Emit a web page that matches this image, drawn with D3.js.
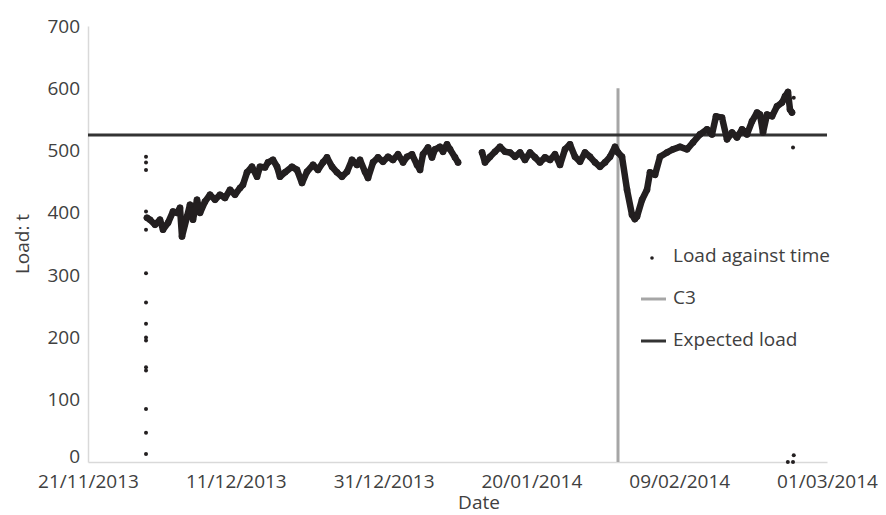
<!DOCTYPE html>
<html>
<head>
<meta charset="utf-8">
<script src="https://cdn.jsdelivr.net/npm/d3@7"></script>
<style>
  html, body { margin: 0; padding: 0; background: #ffffff; }
  text { font-family: 'Open Sans', sans-serif; fill: #404040; }
</style>
</head>
<body>
<svg id="chart" width="886" height="515"></svg>
<script>
// Dates are stored as days since the first tick (21/11/2013)
const START_DATE = '21/11/2013';
const xTickLabels = ['21/11/2013', '11/12/2013', '31/12/2013', '20/01/2014', '09/02/2014', '01/03/2014'];
const yTickValues = [0, 100, 200, 300, 400, 500, 600, 700];

// Load against time, first run (before the gap of ~11/01/2014)
const runOneDays = [7.98, 8.39, 9.07, 9.74, 10.15, 10.83, 11.50, 12.04, 12.45, 12.72, 13.40, 13.80, 14.21, 14.75,
  15.16, 15.83, 16.51, 17.19, 17.86, 18.54, 19.22, 19.89, 20.57, 20.97, 21.52, 22.19, 22.87, 23.27, 23.95, 24.36,
  25.03, 25.58, 25.98, 26.66, 27.60, 28.28, 28.96, 29.63, 30.45, 31.12, 31.80, 32.34, 33.02, 33.69, 34.37, 35.05,
  35.72, 36.40, 36.81, 37.48, 37.89, 38.57, 39.24, 39.92, 40.60, 41.27, 41.95, 42.63, 43.17, 43.84, 44.52, 44.93,
  45.33, 46.01, 46.55, 46.96, 47.63, 48.04, 48.58, 48.99, 49.66, 50.07];
const runOneLoad = [392, 389, 381, 389, 373, 384, 402, 400, 408, 362, 394, 413, 389, 421,
  400, 418, 429, 421, 429, 424, 437, 429, 440, 445, 465, 474, 458, 474, 473, 481,
  485, 474, 458, 465, 474, 469, 448, 466, 477, 469, 481, 489, 474, 465, 458, 466,
  485, 477, 485, 466, 456, 481, 489, 482, 490, 485, 494, 481, 490, 494, 477, 469,
  494, 505, 489, 502, 506, 498, 510, 502, 489, 481];

// Load against time, second run
const runTwoDays = [53.32, 53.72, 54.40, 55.07, 55.75, 56.43, 57.10, 57.78, 58.46, 59.13, 59.81, 60.49, 61.16, 61.84,
  62.52, 63.19, 63.87, 64.55, 65.22, 65.90, 66.58, 67.25, 67.93, 68.61, 69.28, 69.96, 70.64, 71.31, 71.72, 72.26,
  72.94, 73.61, 74.0, 74.29, 74.97, 75.64, 76.05, 76.73, 77.40, 78.35, 79.16, 80.11, 81.06, 81.87, 82.81, 83.76,
  84.44, 84.98, 85.79, 86.47, 87.15, 87.82, 88.50, 89.17, 89.85, 90.53, 90.93, 91.34, 91.88, 92.56, 93.23, 93.91,
  94.32, 94.72, 94.99, 95.26];
const runTwoLoad = [497, 481, 490, 498, 506, 498, 497, 490, 497, 485, 497, 489, 481, 489,
  485, 494, 477, 502, 510, 490, 482, 497, 490, 481, 474, 481, 490, 506, 497, 490,
  437, 397, 390, 394, 421, 437, 465, 461, 490, 497, 502, 506, 502, 513, 526, 534,
  526, 555, 553, 518, 529, 521, 534, 526, 547, 561, 558, 529, 558, 555, 571, 577,
  587, 594, 566, 561];

// Isolated readings at the start and end of the record
const outlierDays = [7.85, 7.85, 7.85, 7.85, 7.85, 7.85, 7.85, 7.85, 7.85, 7.85, 7.85, 7.85, 7.85, 7.85, 7.85,
  95.5, 95.4, 94.7, 95.4, 95.5];
const outlierLoad = [490, 481, 469, 402, 373, 303, 256, 222, 200, 195, 152, 147, 85, 47, 13,
  585, 505, 0, 0, 11];

const C3_DAY = 71.72;
const C3_TOP = 600;
const EXPECTED_LOAD = 525;

const COLOR_TEXT = '#404040';
const COLOR_AXIS = '#d9d9d9';
const COLOR_SERIES = '#231f20';
const COLOR_C3 = '#a6a6a6';
const COLOR_EXPECTED = '#333333';

const PLOT_LEFT = 88;
const PLOT_RIGHT = 827;
const PLOT_TOP = 26;
const PLOT_BOTTOM = 462;
const FONT_SIZE = 19;

const parseDay = d3.timeParse('%d/%m/%Y');
const start = parseDay(START_DATE);
const toDate = d => new Date(start.getTime() + d * 864e5);

const svg = d3.select('#chart');

const x = d3.scaleTime()
  .domain([parseDay(xTickLabels[0]), parseDay(xTickLabels[xTickLabels.length - 1])])
  .range([PLOT_LEFT, PLOT_RIGHT]);
const y = d3.scaleLinear()
  .domain([0, 700])
  .range([PLOT_BOTTOM, PLOT_TOP]);

// Axes
const xAxis = svg.append('g')
  .attr('transform', `translate(0,${PLOT_BOTTOM})`)
  .call(d3.axisBottom(x)
    .tickValues(xTickLabels.map(parseDay))
    .tickFormat(d3.timeFormat('%d/%m/%Y'))
    .tickSize(0)
    .tickPadding(13));
const yAxis = svg.append('g')
  .attr('transform', `translate(${PLOT_LEFT},0)`)
  .call(d3.axisLeft(y)
    .tickValues(yTickValues)
    .tickSize(0)
    .tickPadding(8));

[xAxis, yAxis].forEach(g => {
  g.select('.domain').attr('stroke', COLOR_AXIS).attr('stroke-width', 1.5);
  g.selectAll('text')
    .attr('font-family', "'Open Sans', sans-serif")
    .attr('font-size', FONT_SIZE)
    .attr('fill', COLOR_TEXT);
});
// the bottom label sits higher so it clears the first date label
yAxis.selectAll('.tick text').filter(d => d === 0).attr('dy', '0');

// Axis titles
svg.append('text')
  .attr('x', 479)
  .attr('y', 509)
  .attr('text-anchor', 'middle')
  .attr('font-size', FONT_SIZE)
  .text('Date');
svg.append('text')
  .attr('transform', `translate(29,${(PLOT_TOP + PLOT_BOTTOM) / 2}) rotate(-90)`)
  .attr('text-anchor', 'middle')
  .attr('font-size', FONT_SIZE)
  .text('Load: t');

// Reference lines
svg.append('line')
  .attr('x1', x(toDate(C3_DAY)))
  .attr('x2', x(toDate(C3_DAY)))
  .attr('y1', y(0))
  .attr('y2', y(C3_TOP))
  .attr('stroke', COLOR_C3)
  .attr('stroke-width', 3);
svg.append('line')
  .attr('x1', PLOT_LEFT)
  .attr('x2', PLOT_RIGHT)
  .attr('y1', y(EXPECTED_LOAD))
  .attr('y2', y(EXPECTED_LOAD))
  .attr('stroke', COLOR_EXPECTED)
  .attr('stroke-width', 3);

// Load against time - dense readings drawn as a thick trace plus dots
const runs = [
  runOneDays.map((d, i) => ({ t: toDate(d), v: runOneLoad[i] })),
  runTwoDays.map((d, i) => ({ t: toDate(d), v: runTwoLoad[i] }))
];
const line = d3.line().x(d => x(d.t)).y(d => y(d.v)).curve(d3.curveLinear);

const series = svg.append('g');
runs.forEach(run => {
  series.append('path')
    .attr('d', line(run))
    .attr('fill', 'none')
    .attr('stroke', COLOR_SERIES)
    .attr('stroke-width', 6.5)
    .attr('stroke-linejoin', 'round')
    .attr('stroke-linecap', 'round');
  series.selectAll(null)
    .data(run)
    .join('circle')
    .attr('cx', d => x(d.t))
    .attr('cy', d => y(d.v))
    .attr('r', 3.3)
    .attr('fill', COLOR_SERIES);
});

series.selectAll(null)
  .data(outlierDays.map((d, i) => ({ t: toDate(d), v: outlierLoad[i] })))
  .join('circle')
  .attr('cx', d => x(d.t))
  .attr('cy', d => y(d.v))
  .attr('r', 2)
  .attr('fill', COLOR_SERIES);

// Legend
const legend = svg.append('g').attr('transform', 'translate(641,0)');
legend.append('circle')
  .attr('cx', 11)
  .attr('cy', 258)
  .attr('r', 1.8)
  .attr('fill', COLOR_SERIES);
legend.append('line')
  .attr('x1', 0).attr('x2', 25)
  .attr('y1', 299).attr('y2', 299)
  .attr('stroke', COLOR_C3)
  .attr('stroke-width', 3);
legend.append('line')
  .attr('x1', 0).attr('x2', 25)
  .attr('y1', 341).attr('y2', 341)
  .attr('stroke', COLOR_EXPECTED)
  .attr('stroke-width', 3);
[['Load against time', 262], ['C3', 304], ['Expected load', 346]].forEach(([label, yy]) => {
  legend.append('text')
    .attr('x', 32)
    .attr('y', yy)
    .attr('font-size', FONT_SIZE)
    .text(label);
});
</script>
</body>
</html>
